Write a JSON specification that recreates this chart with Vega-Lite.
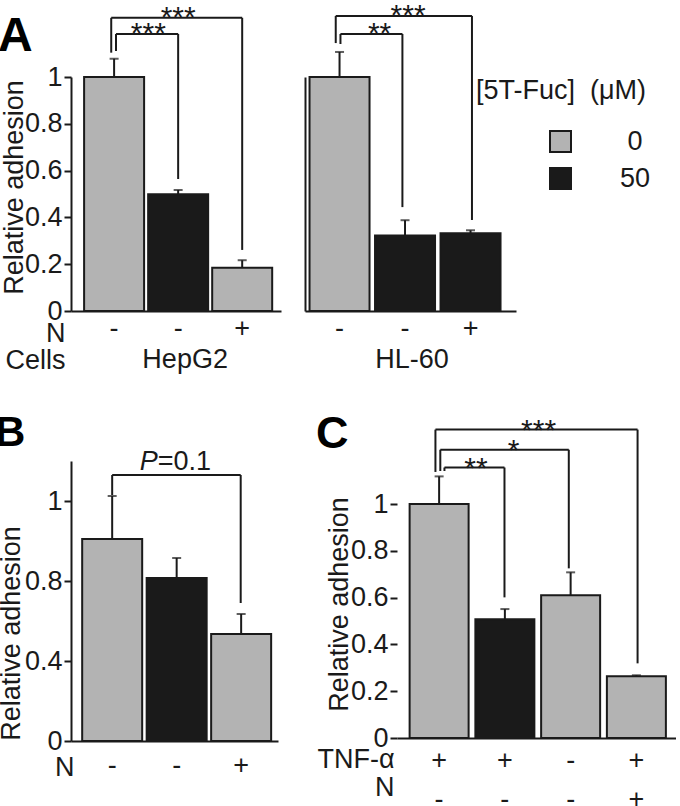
{
  "$schema": "https://vega.github.io/schema/vega-lite/v6.json",
  "padding": {"left": -5, "top": 0, "right": 0, "bottom": 0},
  "background": "white",
  "config": {
    "view": {"stroke": null},
    "font": "Liberation Sans",
    "axis": {
      "domainColor": "#1a1a1a", "domainWidth": 2, "tickColor": "#1a1a1a", "tickWidth": 2, "tickSize": 7,
      "labelFontSize": 27, "labelColor": "#1a1a1a", "labelPadding": 2, "titleFontSize": 27,
      "titleFontWeight": "normal", "titleColor": "#1a1a1a", "grid": false
    },
    "axisX": {"ticks": false, "labels": false},
    "text": {"fontSize": 27, "color": "#1a1a1a", "baseline": "alphabetic"},
    "rule": {"color": "#1a1a1a", "strokeWidth": 2},
    "bar": {"stroke": "#1a1a1a", "strokeWidth": 2},
    "tick": {"color": "#1a1a1a", "thickness": 2},
    "title": {"fontSize": 46, "fontWeight": "bold", "anchor": "start", "frame": "group", "color": "#000000", "baseline": "alphabetic"}
  },
  "datasets": {
    "bars": [
      {"panel": "HepG2", "pos": 1, "fuc": "0", "n": "-", "value": 1.0, "upper": 1.078},
      {"panel": "HepG2", "pos": 2, "fuc": "50", "n": "-", "value": 0.499, "upper": 0.517},
      {"panel": "HepG2", "pos": 3, "fuc": "0", "n": "+", "value": 0.185, "upper": 0.217},
      {"panel": "HL-60", "pos": 1, "fuc": "0", "n": "-", "value": 1.0, "upper": 1.107},
      {"panel": "HL-60", "pos": 2, "fuc": "50", "n": "-", "value": 0.323, "upper": 0.388},
      {"panel": "HL-60", "pos": 3, "fuc": "50", "n": "+", "value": 0.332, "upper": 0.345},
      {"panel": "B", "pos": 1, "fuc": "0", "n": "-", "value": 1.01, "upper": 1.225},
      {"panel": "B", "pos": 2, "fuc": "50", "n": "-", "value": 0.815, "upper": 0.915},
      {"panel": "B", "pos": 3, "fuc": "0", "n": "+", "value": 0.535, "upper": 0.635},
      {"panel": "C", "pos": 1, "fuc": "0", "tnf": "+", "n": "-", "value": 1.0, "upper": 1.118},
      {"panel": "C", "pos": 2, "fuc": "50", "tnf": "+", "n": "-", "value": 0.508, "upper": 0.551},
      {"panel": "C", "pos": 3, "fuc": "0", "tnf": "-", "n": "-", "value": 0.61, "upper": 0.708},
      {"panel": "C", "pos": 4, "fuc": "0", "tnf": "+", "n": "+", "value": 0.264, "upper": 0.268}
    ],
    "brackets": [
      {"panel": "HepG2", "x1": 1.03, "x2": 2.0, "top": 1.184, "left": 1.111, "right": 0.564, "label": "***", "labelX": 1.535},
      {"panel": "HepG2", "x1": 0.955, "x2": 3.0, "top": 1.253, "left": 1.104, "right": 0.261, "label": "***", "labelX": 2.0},
      {"panel": "HL-60", "x1": 1.014, "x2": 1.96, "top": 1.184, "left": 1.141, "right": 0.444, "label": "**", "labelX": 1.611},
      {"panel": "HL-60", "x1": 0.942, "x2": 3.022, "top": 1.261, "left": 1.145, "right": 0.389, "label": "***", "labelX": 2.047},
      {"panel": "B", "x1": 1.0, "x2": 2.993, "top": 1.33, "left": 1.23, "right": 0.69, "stat": "P", "label": "=0.1", "labelX": 1.708},
      {"panel": "C", "x1": 1.081, "x2": 1.994, "top": 1.156, "left": 1.141, "right": 0.601, "label": "**", "labelX": 1.56},
      {"panel": "C", "x1": 1.018, "x2": 2.972, "top": 1.232, "left": 1.141, "right": 0.725, "label": "*", "labelX": 2.132},
      {"panel": "C", "x1": 0.944, "x2": 4.018, "top": 1.318, "left": 1.137, "right": 0.319, "label": "***", "labelX": 2.513}
    ],
    "cells": [
      {"panel": "HepG2", "cells": "HepG2", "pos": 2},
      {"panel": "HL-60", "cells": "HL-60", "pos": 2}
    ]
  },
  "resolve": {"scale": {"color": "independent"}, "legend": {"color": "independent"}},
  "spacing": 38,
  "vconcat": [
    {
      "bounds": "flush",
      "spacing": 24,
      "resolve": {"scale": {"color": "independent"}, "legend": {"color": "independent"}},
      "hconcat": [
        {
          "width": 210, "height": 234,
          "title": {"text": "A", "fontSize": 48, "dx": -73, "offset": -58},
          "layer": [
            {
              "data": {"name": "bars"}, "transform": [{"filter": "datum.panel == 'HepG2'"}],
              "mark": {"type": "bar", "width": 60, "orient": "vertical"},
              "encoding": {
                "x": {"field": "pos", "type": "quantitative", "scale": {"domain": [0.405, 3.528], "nice": false, "zero": false},
                      "axis": {"title": ["N", "Cells"], "titleX": -6, "titleY": 30, "titleAlign": "right", "titleBaseline": "alphabetic", "titleLineHeight": 27}},
                "y": {"field": "value", "type": "quantitative", "scale": {"domain": [0, 1], "nice": false},
                      "axis": {"values": [0, 0.2, 0.4, 0.6, 0.8, 1], "format": "~g", "title": "Relative adhesion", "titleY": 110, "titlePadding": -4}},
                "color": {"field": "fuc", "type": "nominal", "scale": {"domain": ["0", "50"], "range": ["#b3b3b3", "#1a1a1a"]}, "legend": null}
              }
            },
            {
              "data": {"name": "bars"}, "transform": [{"filter": "datum.panel == 'HepG2'"}],
              "mark": "rule",
              "encoding": {"x": {"field": "pos", "type": "quantitative"}, "y": {"field": "value", "type": "quantitative"}, "y2": {"field": "upper"}}
            },
            {
              "data": {"name": "bars"}, "transform": [{"filter": "datum.panel == 'HepG2'"}],
              "mark": {"type": "tick", "orient": "horizontal", "size": 9},
              "encoding": {"x": {"field": "pos", "type": "quantitative"}, "y": {"field": "upper", "type": "quantitative"}}
            },
            {
              "data": {"name": "bars"}, "transform": [{"filter": "datum.panel == 'HepG2'"}],
              "mark": {"type": "text", "dy": 26},
              "encoding": {"x": {"field": "pos", "type": "quantitative"}, "y": {"datum": 0}, "text": {"field": "n"}}
            },
            {
              "data": {"name": "cells"}, "transform": [{"filter": "datum.panel == 'HepG2'"}],
              "mark": {"type": "text", "dy": 57, "dx": 7},
              "encoding": {"x": {"field": "pos", "type": "quantitative"}, "y": {"datum": 0}, "text": {"field": "cells"}}
            },
            {
              "data": {"name": "brackets"}, "transform": [{"filter": "datum.panel == 'HepG2'"}],
              "mark": "rule",
              "encoding": {"x": {"field": "x1", "type": "quantitative"}, "x2": {"field": "x2"}, "y": {"field": "top", "type": "quantitative"}}
            },
            {
              "data": {"name": "brackets"}, "transform": [{"filter": "datum.panel == 'HepG2'"}],
              "mark": "rule",
              "encoding": {"x": {"field": "x1", "type": "quantitative"}, "y": {"field": "left", "type": "quantitative"}, "y2": {"field": "top"}}
            },
            {
              "data": {"name": "brackets"}, "transform": [{"filter": "datum.panel == 'HepG2'"}],
              "mark": "rule",
              "encoding": {"x": {"field": "x2", "type": "quantitative"}, "y": {"field": "right", "type": "quantitative"}, "y2": {"field": "top"}}
            },
            {
              "data": {"name": "brackets"}, "transform": [{"filter": "datum.panel == 'HepG2'"}],
              "mark": {"type": "text", "fontSize": 30, "dy": 9},
              "encoding": {"x": {"field": "labelX", "type": "quantitative"}, "y": {"field": "top", "type": "quantitative"}, "text": {"field": "label"}}
            }
          ]
        },
        {
          "width": 211, "height": 234,
          "layer": [
            {
              "data": {"name": "bars"}, "transform": [{"filter": "datum.panel == 'HL-60'"}],
              "mark": {"type": "bar", "width": 60, "orient": "vertical"},
              "encoding": {
                "x": {"field": "pos", "type": "quantitative", "scale": {"domain": [0.549, 3.618], "nice": false, "zero": false}, "axis": {"title": null}},
                "y": {"field": "value", "type": "quantitative", "scale": {"domain": [0, 1], "nice": false}, "axis": {"ticks": false, "labels": false, "title": null}},
                "color": {"field": "fuc", "type": "nominal", "scale": {"domain": ["0", "50"], "range": ["#b3b3b3", "#1a1a1a"]},
                  "legend": {
                    "title": "[5T-Fuc]\u00a0 (μM)", "orient": "none", "legendX": 171, "legendY": 1, "padding": 0,
                    "titleFontSize": 27, "titleFontWeight": "normal", "titleColor": "#1a1a1a", "titlePadding": 23, "titleLimit": 400,
                    "labelFontSize": 27, "labelColor": "#1a1a1a", "labelAlign": "center", "labelOffset": 61, "labelLimit": 200,
                    "symbolType": "square", "symbolSize": 441, "symbolStrokeColor": "#1a1a1a", "symbolStrokeWidth": 2, "symbolOffset": 71, "symbolOpacity": 1,
                    "rowPadding": 8
                  }
                }
              }
            },
            {
              "data": {"name": "bars"}, "transform": [{"filter": "datum.panel == 'HL-60'"}],
              "mark": "rule",
              "encoding": {"x": {"field": "pos", "type": "quantitative"}, "y": {"field": "value", "type": "quantitative"}, "y2": {"field": "upper"}}
            },
            {
              "data": {"name": "bars"}, "transform": [{"filter": "datum.panel == 'HL-60'"}],
              "mark": {"type": "tick", "orient": "horizontal", "size": 9},
              "encoding": {"x": {"field": "pos", "type": "quantitative"}, "y": {"field": "upper", "type": "quantitative"}}
            },
            {
              "data": {"name": "bars"}, "transform": [{"filter": "datum.panel == 'HL-60'"}],
              "mark": {"type": "text", "dy": 26},
              "encoding": {"x": {"field": "pos", "type": "quantitative"}, "y": {"datum": 0}, "text": {"field": "n"}}
            },
            {
              "data": {"name": "cells"}, "transform": [{"filter": "datum.panel == 'HL-60'"}],
              "mark": {"type": "text", "dy": 57, "dx": 7},
              "encoding": {"x": {"field": "pos", "type": "quantitative"}, "y": {"datum": 0}, "text": {"field": "cells"}}
            },
            {
              "data": {"name": "brackets"}, "transform": [{"filter": "datum.panel == 'HL-60'"}],
              "mark": "rule",
              "encoding": {"x": {"field": "x1", "type": "quantitative"}, "x2": {"field": "x2"}, "y": {"field": "top", "type": "quantitative"}}
            },
            {
              "data": {"name": "brackets"}, "transform": [{"filter": "datum.panel == 'HL-60'"}],
              "mark": "rule",
              "encoding": {"x": {"field": "x1", "type": "quantitative"}, "y": {"field": "left", "type": "quantitative"}, "y2": {"field": "top"}}
            },
            {
              "data": {"name": "brackets"}, "transform": [{"filter": "datum.panel == 'HL-60'"}],
              "mark": "rule",
              "encoding": {"x": {"field": "x2", "type": "quantitative"}, "y": {"field": "right", "type": "quantitative"}, "y2": {"field": "top"}}
            },
            {
              "data": {"name": "brackets"}, "transform": [{"filter": "datum.panel == 'HL-60'"}],
              "mark": {"type": "text", "fontSize": 30, "dy": 9},
              "encoding": {"x": {"field": "labelX", "type": "quantitative"}, "y": {"field": "top", "type": "quantitative"}, "text": {"field": "label"}}
            }
          ]
        }
      ]
    },
    {
      "bounds": "flush",
      "spacing": 119,
      "resolve": {"scale": {"color": "independent"}, "legend": {"color": "independent"}},
      "hconcat": [
        {
          "width": 207, "height": 280,
          "title": {"text": "B", "fontSize": 42, "dx": -76, "offset": -7},
          "layer": [
            {
              "data": {"name": "bars"}, "transform": [{"filter": "datum.panel == 'B'"}],
              "mark": {"type": "bar", "width": 60, "orient": "vertical"},
              "encoding": {
                "x": {"field": "pos", "type": "quantitative", "scale": {"domain": [0.439, 3.494], "nice": false, "zero": false},
                      "axis": {"title": "N", "titleX": 3, "titleY": 34, "titleAlign": "right", "titleBaseline": "alphabetic"}},
                "y": {"field": "value", "type": "quantitative", "scale": {"domain": [0, 1.4], "nice": false},
                      "axis": {"values": [0, 0.2, 0.4, 0.6, 0.8, 1, 1.2, 1.4], "labelExpr": "datum.value == 0 ? '0' : datum.value == 0.4 ? '0.4' : datum.value == 0.8 ? '0.8' : datum.value == 1.2 ? '1' : ''", "title": "Relative adhesion", "titleY": 172, "titlePadding": -1}},
                "color": {"field": "fuc", "type": "nominal", "scale": {"domain": ["0", "50"], "range": ["#b3b3b3", "#1a1a1a"]}, "legend": null}
              }
            },
            {
              "data": {"name": "bars"}, "transform": [{"filter": "datum.panel == 'B'"}],
              "mark": "rule",
              "encoding": {"x": {"field": "pos", "type": "quantitative"}, "y": {"field": "value", "type": "quantitative"}, "y2": {"field": "upper"}}
            },
            {
              "data": {"name": "bars"}, "transform": [{"filter": "datum.panel == 'B'"}],
              "mark": {"type": "tick", "orient": "horizontal", "size": 9},
              "encoding": {"x": {"field": "pos", "type": "quantitative"}, "y": {"field": "upper", "type": "quantitative"}}
            },
            {
              "data": {"name": "bars"}, "transform": [{"filter": "datum.panel == 'B'"}],
              "mark": {"type": "text", "dy": 33},
              "encoding": {"x": {"field": "pos", "type": "quantitative"}, "y": {"datum": 0}, "text": {"field": "n"}}
            },
            {
              "data": {"name": "brackets"}, "transform": [{"filter": "datum.panel == 'B'"}],
              "mark": "rule",
              "encoding": {"x": {"field": "x1", "type": "quantitative"}, "x2": {"field": "x2"}, "y": {"field": "top", "type": "quantitative"}}
            },
            {
              "data": {"name": "brackets"}, "transform": [{"filter": "datum.panel == 'B'"}],
              "mark": "rule",
              "encoding": {"x": {"field": "x1", "type": "quantitative"}, "y": {"field": "left", "type": "quantitative"}, "y2": {"field": "top"}}
            },
            {
              "data": {"name": "brackets"}, "transform": [{"filter": "datum.panel == 'B'"}],
              "mark": "rule",
              "encoding": {"x": {"field": "x2", "type": "quantitative"}, "y": {"field": "right", "type": "quantitative"}, "y2": {"field": "top"}}
            },
            {
              "data": {"name": "brackets"}, "transform": [{"filter": "datum.panel == 'B'"}],
              "mark": {"type": "text", "dy": -5, "align": "right", "fontStyle": "italic"},
              "encoding": {"x": {"field": "labelX", "type": "quantitative"}, "y": {"field": "top", "type": "quantitative"}, "text": {"field": "stat"}}
            },
            {
              "data": {"name": "brackets"}, "transform": [{"filter": "datum.panel == 'B'"}],
              "mark": {"type": "text", "dy": -5, "align": "left"},
              "encoding": {"x": {"field": "labelX", "type": "quantitative"}, "y": {"field": "top", "type": "quantitative"}, "text": {"field": "label"}}
            }
          ]
        },
        {
          "width": 279, "height": 277,
          "title": {"text": "C", "fontSize": 45, "dx": -81, "offset": -41},
          "layer": [
            {
              "data": {"name": "bars"}, "transform": [{"filter": "datum.panel == 'C'"}],
              "mark": {"type": "bar", "width": 59, "orient": "vertical"},
              "encoding": {
                "x": {"field": "pos", "type": "quantitative", "scale": {"domain": [0.4355, 4.5264], "nice": false, "zero": false},
                      "axis": {"title": ["TNF-α", "N"], "titleX": -3, "titleY": 29, "titleAlign": "right", "titleBaseline": "alphabetic", "titleLineHeight": 28}},
                "y": {"field": "value", "type": "quantitative", "scale": {"domain": [0, 1.1838], "nice": false},
                      "axis": {"domain": false, "values": [0, 0.2, 0.4, 0.6, 0.8, 1], "format": "~g", "title": "Relative adhesion", "titleY": 143, "titlePadding": -3}},
                "color": {"field": "fuc", "type": "nominal", "scale": {"domain": ["0", "50"], "range": ["#b3b3b3", "#1a1a1a"]}, "legend": null}
              }
            },
            {
              "mark": "rule",
              "encoding": {"x": {"datum": 0.4355}, "y": {"datum": 0}, "y2": {"datum": 1}}
            },
            {
              "data": {"name": "bars"}, "transform": [{"filter": "datum.panel == 'C'"}],
              "mark": "rule",
              "encoding": {"x": {"field": "pos", "type": "quantitative"}, "y": {"field": "value", "type": "quantitative"}, "y2": {"field": "upper"}}
            },
            {
              "data": {"name": "bars"}, "transform": [{"filter": "datum.panel == 'C'"}],
              "mark": {"type": "tick", "orient": "horizontal", "size": 9},
              "encoding": {"x": {"field": "pos", "type": "quantitative"}, "y": {"field": "upper", "type": "quantitative"}}
            },
            {
              "data": {"name": "bars"}, "transform": [{"filter": "datum.panel == 'C'"}],
              "mark": {"type": "text", "dy": 31},
              "encoding": {"x": {"field": "pos", "type": "quantitative"}, "y": {"datum": 0}, "text": {"field": "tnf"}}
            },
            {
              "data": {"name": "bars"}, "transform": [{"filter": "datum.panel == 'C'"}],
              "mark": {"type": "text", "dy": 70},
              "encoding": {"x": {"field": "pos", "type": "quantitative"}, "y": {"datum": 0}, "text": {"field": "n"}}
            },
            {
              "data": {"name": "brackets"}, "transform": [{"filter": "datum.panel == 'C'"}],
              "mark": "rule",
              "encoding": {"x": {"field": "x1", "type": "quantitative"}, "x2": {"field": "x2"}, "y": {"field": "top", "type": "quantitative"}}
            },
            {
              "data": {"name": "brackets"}, "transform": [{"filter": "datum.panel == 'C'"}],
              "mark": "rule",
              "encoding": {"x": {"field": "x1", "type": "quantitative"}, "y": {"field": "left", "type": "quantitative"}, "y2": {"field": "top"}}
            },
            {
              "data": {"name": "brackets"}, "transform": [{"filter": "datum.panel == 'C'"}],
              "mark": "rule",
              "encoding": {"x": {"field": "x2", "type": "quantitative"}, "y": {"field": "right", "type": "quantitative"}, "y2": {"field": "top"}}
            },
            {
              "data": {"name": "brackets"}, "transform": [{"filter": "datum.panel == 'C'"}],
              "mark": {"type": "text", "fontSize": 30, "dy": 10},
              "encoding": {"x": {"field": "labelX", "type": "quantitative"}, "y": {"field": "top", "type": "quantitative"}, "text": {"field": "label"}}
            }
          ]
        }
      ]
    }
  ]
}
